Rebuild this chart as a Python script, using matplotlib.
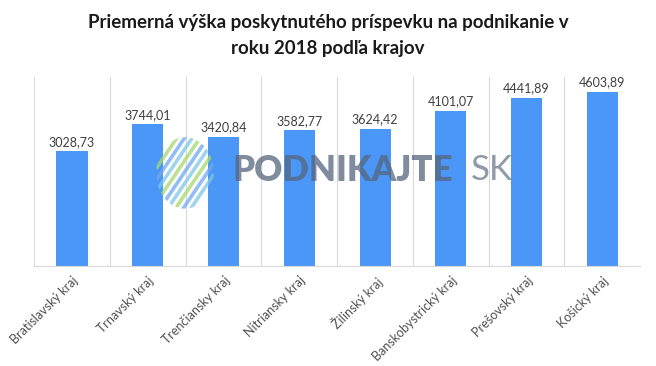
import matplotlib.pyplot as plt
from matplotlib.patches import Circle
import numpy as np

# data
kraje = ['Bratislavský kraj', 'Trnavský kraj', 'Trenčiansky kraj', 'Nitriansky kraj',
         'Žilinský kraj', 'Banskobystrický kraj', 'Prešovský kraj', 'Košický kraj']
hodnoty = [3028.73, 3744.01, 3420.84, 3582.77, 3624.42, 4101.07, 4441.89, 4603.89]

plt.rcParams['font.family'] = ['Lato', 'DejaVu Sans']

fig = plt.figure(figsize=(6.56, 3.66), dpi=100)
ax = fig.add_axes([0.052, 0.273, 0.924, 0.517])

x = np.arange(len(kraje))
ax.bar(x, hodnoty, width=0.41, color='#4b97f7', zorder=2)

for xi, v in zip(x, hodnoty):
    ax.text(xi, v + 90, ('%.2f' % v).replace('.', ','), ha='center', va='bottom',
            fontsize=9, color='#404040', zorder=3)

ax.set_xlim(-0.5, len(kraje) - 0.5)
ax.set_ylim(0, 5000)
ax.set_yticks([])
ax.set_xticks(x)
ax.set_xticklabels(kraje, rotation=45, ha='right', rotation_mode='anchor',
                   fontsize=9, color='#505050')
ax.tick_params(axis='x', length=0, pad=6)
for b in np.arange(-0.5, len(kraje), 1.0):
    ax.axvline(b, color='#d9d9d9', lw=0.8, zorder=1)
for s in ['top', 'right', 'left']:
    ax.spines[s].set_visible(False)
ax.spines['bottom'].set_color('#d9d9d9')

fig.text(0.5, 0.903, 'Priemerná výška poskytnutého príspevku na podnikanie v\nroku 2018 podľa krajov',
         ha='center', va='center', fontsize=13.5, fontweight='bold', color='#1a1a1a',
         linespacing=1.6)

# watermark (logo stripes + text)
lax = fig.add_axes([0.238, 0.43, 0.088, 0.195], zorder=5)
lax.set_xlim(0, 1)
lax.set_ylim(0, 1)
lax.axis('off')
clip = Circle((0.5, 0.5), 0.5, transform=lax.transAxes)
cols = ['#7ec8e8', '#6fa8f0', '#a6d86f', '#7ec8e8', '#6fa8f0', '#a6d86f',
        '#7ec8e8', '#6fa8f0', '#a6d86f', '#7ec8e8']
for i, c in enumerate(cols):
    off = -0.72 + i * 0.16
    ln, = lax.plot([0, 1], [off, off + 1.2], color=c, lw=2.6, alpha=0.75,
                   solid_capstyle='butt')
    ln.set_clip_path(clip)
fig.text(0.354, 0.535, 'PODNIKAJTE', fontsize=25, fontweight='heavy', color='#55657c',
         alpha=0.75, ha='left', va='center', zorder=6)
fig.text(0.703, 0.535, '▸', fontsize=8, color='#4b97f7', alpha=0.8,
         ha='left', va='center', zorder=6, family='DejaVu Sans')
fig.text(0.718, 0.535, 'SK', fontsize=25, color='#6a778a', alpha=0.75,
         ha='left', va='center', zorder=6)

fig.savefig('out.png', dpi=100)
